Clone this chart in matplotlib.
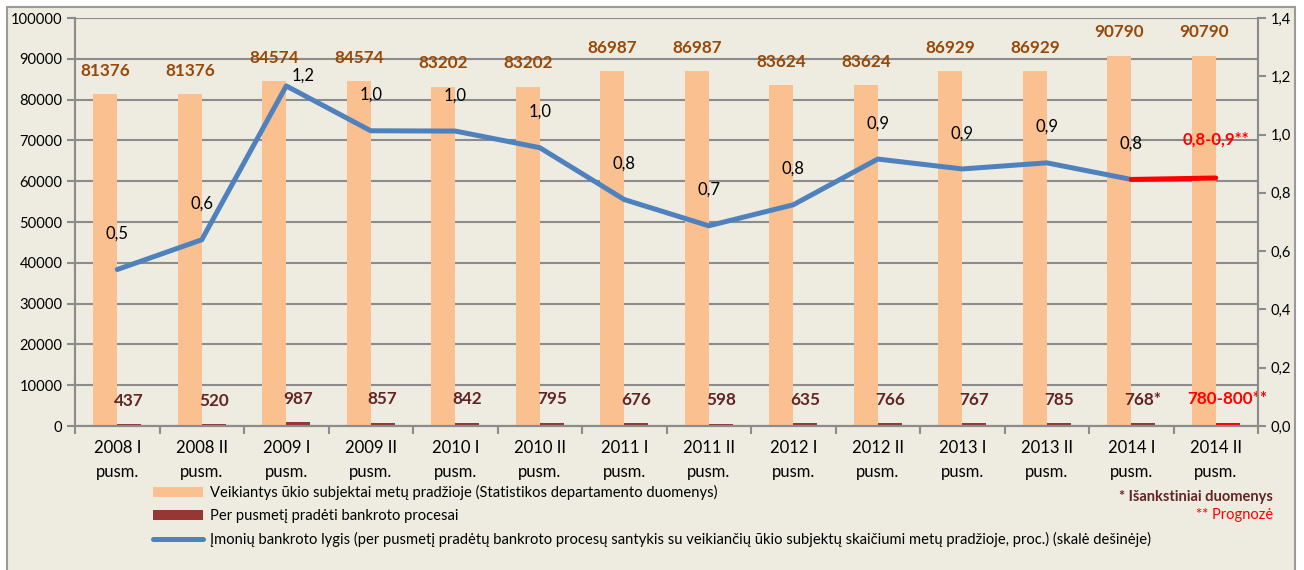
import matplotlib.pyplot as plt
from matplotlib.patches import Rectangle, Patch
from matplotlib.lines import Line2D
import numpy as np

plt.rcParams['font.family'] = ['Lato', 'DejaVu Sans']

categories = ['2008 I\npusm.', '2008 II\npusm.', '2009 I\npusm.', '2009 II\npusm.',
              '2010 I\npusm.', '2010 II\npusm.', '2011 I\npusm.', '2011 II\npusm.',
              '2012 I\npusm.', '2012 II\npusm.', '2013 I\npusm.', '2013 II\npusm.',
              '2014 I\npusm.', '2014 II\npusm.']
subjects = [81376, 81376, 84574, 84574, 83202, 83202, 86987, 86987,
            83624, 83624, 86929, 86929, 90790, 90790]
bankruptcies = [437, 520, 987, 857, 842, 795, 676, 598, 635, 766, 767, 785, 768, 790]
bankruptcy_labels = ['437', '520', '987', '857', '842', '795', '676', '598',
                     '635', '766', '767', '785', '768*', '780-800**']
rate = [0.537, 0.639, 1.167, 1.013, 1.012, 0.955, 0.777, 0.687,
        0.759, 0.916, 0.882, 0.903, 0.846, 0.851]
rate_labels = ['0,5', '0,6', '1,2', '1,0', '1,0', '1,0', '0,8', '0,7',
               '0,8', '0,9', '0,9', '0,9', '0,8', '0,8-0,9**']

bg = '#EEECE1'
grid_c = '#8C8C8C'
orange = '#FAC090'
darkred = '#953735'
blue = '#4F81BD'

fig = plt.figure(figsize=(13.04, 5.70), dpi=100, facecolor='white')
fig.patches.append(Rectangle((7 / 1304, -0.01), 1288 / 1304, 1.01 - 7 / 570,
                             transform=fig.transFigure, facecolor=bg,
                             edgecolor='#9A9A9A', linewidth=1.5, zorder=-5))

ax = fig.add_axes([75 / 1304, 1 - 426 / 570, 1183 / 1304, 408 / 570])
ax.set_facecolor(bg)
x = np.arange(len(categories))
w = 0.284

b1 = ax.bar(x - w / 2, subjects, w, color=orange, zorder=2)
bar_colors = [darkred] * 13 + ['#FF0000']
b2 = ax.bar(x + w / 2, bankruptcies, w, color=bar_colors, zorder=2)

ax.bar_label(b1, labels=[str(v) for v in subjects], padding=11,
             fontsize=12.3, fontweight='bold', color='#984807')
lbls = ax.bar_label(b2, labels=bankruptcy_labels, padding=11,
                    fontsize=12.3, fontweight='bold', color='#632523')
lbls[-1].set_color('#FF0000')

ax.set_xlim(-0.5, len(categories) - 0.5)
ax.set_ylim(0, 100000)
ax.set_yticks(np.arange(0, 100001, 10000))
ax.yaxis.grid(True, color=grid_c, linewidth=1.5, zorder=0)
ax.set_axisbelow(True)
ax.set_xticks(x)
ax.set_xticklabels(categories, fontsize=12, linespacing=1.6)
ax.set_xticks(np.arange(-0.5, len(categories), 1), minor=True)
ax.tick_params(axis='x', which='major', length=0, pad=10)
ax.tick_params(axis='x', which='minor', length=6, width=1.5, color=grid_c)
ax.tick_params(axis='y', length=6, width=1.5, color=grid_c, labelsize=10.6, pad=3)
for s in ax.spines.values():
    s.set_color(grid_c)
    s.set_linewidth(1.5)
ax.spines['top'].set_visible(False)

ax2 = ax.twinx()
ax2.set_ylim(0, 1.4)
ax2.set_yticks(np.arange(0, 1.41, 0.2))
ax2.set_yticklabels([f'{v:.1f}'.replace('.', ',') for v in np.arange(0, 1.41, 0.2)])
ax2.tick_params(axis='y', length=6, width=1.5, color=grid_c, labelsize=10.6, pad=3)
for s in ax2.spines.values():
    s.set_color(grid_c)
    s.set_linewidth(1.5)
ax2.spines['top'].set_visible(False)

ax2.plot(x[:13], rate[:13], color=blue, linewidth=3.6, solid_capstyle='round', zorder=3)
ax2.plot(x[12:], rate[12:], color='#FF0000', linewidth=3.6, solid_capstyle='round', zorder=3)

for i, (v, t) in enumerate(zip(rate, rate_labels)):
    dx = 12 if i == 2 else 0
    dy = 2 if i == 2 else 20
    if i == 13:
        ax2.annotate(t, (x[i], v), xytext=(dx, dy + 2), textcoords='offset points',
                     ha='center', va='bottom', fontsize=12, fontweight='bold',
                     color='#FF0000')
    else:
        ax2.annotate(t, (x[i], v), xytext=(dx, dy), textcoords='offset points',
                     ha='center', va='bottom', fontsize=12, color='black')

handles = [Patch(facecolor=orange),
           Patch(facecolor=darkred),
           Line2D([0], [0], color=blue, linewidth=3.6, solid_capstyle='round')]
labels = ['Veikiantys ūkio subjektai metų pradžioje (Statistikos departamento duomenys)',
          'Per pusmetį pradėti bankroto procesai',
          'Įmonių bankroto lygis (per pusmetį pradėtų bankroto procesų santykis su veikiančių ūkio subjektų skaičiumi metų pradžioje, proc.) (skalė dešinėje)']
fig.legend(handles, labels, loc='upper left', bbox_to_anchor=(153 / 1304, 1 - 485 / 570),
           frameon=False, fontsize=10.6, handlelength=3.4, handletextpad=0.5,
           borderpad=0, borderaxespad=0, labelspacing=0.6)

fig.text(1273 / 1304, 1 - 497 / 570, '* Išankstiniai duomenys', ha='right', va='center',
         fontsize=10.5, fontweight='bold', color='#632523')
fig.text(1273 / 1304, 1 - 515 / 570, '** Prognozė', ha='right', va='center',
         fontsize=10.5, color='#FF0000')

fig.savefig('out.png', dpi=100, facecolor='white')
